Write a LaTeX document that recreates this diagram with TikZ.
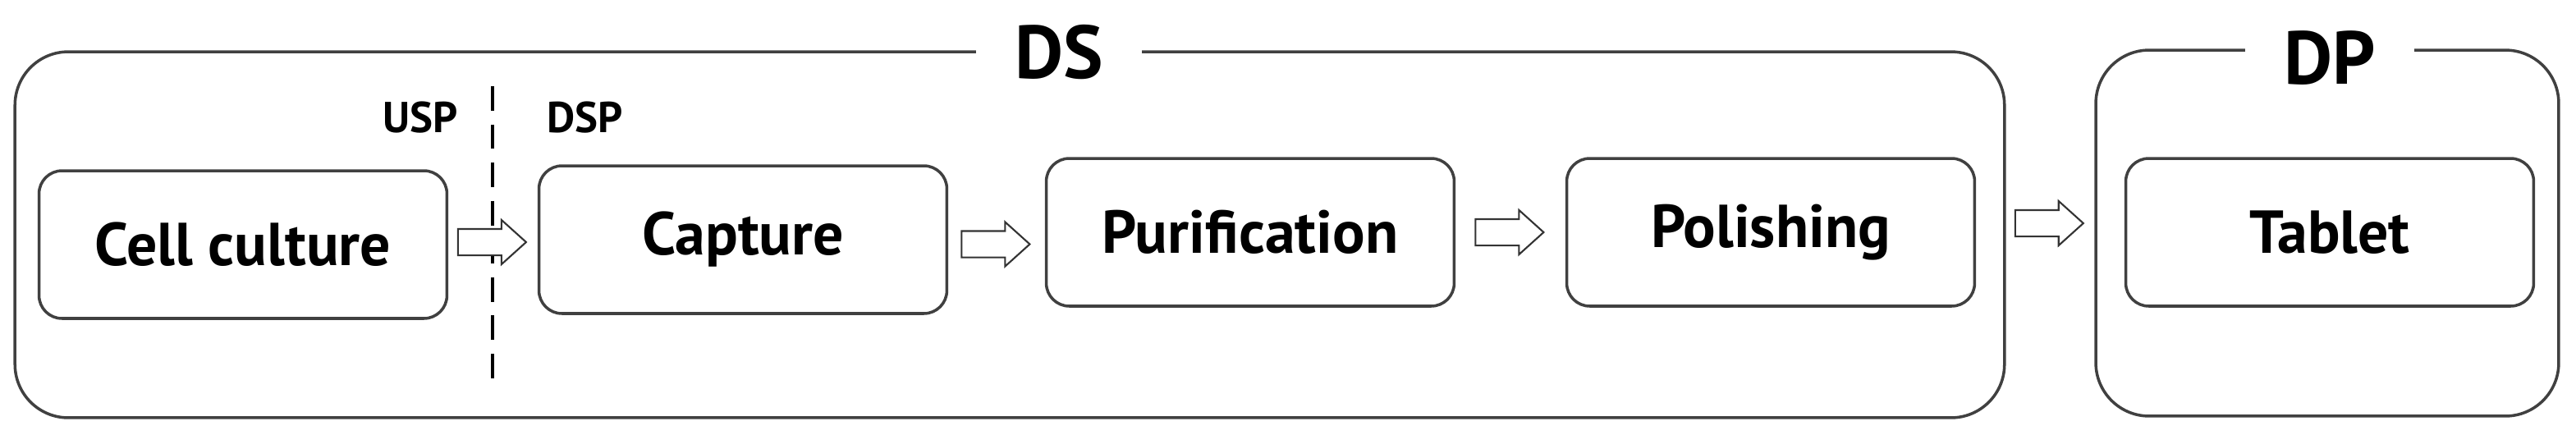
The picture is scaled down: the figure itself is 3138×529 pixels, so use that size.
\documentclass[tikz,border=0pt]{standalone}
\usepackage{fontspec}
\setmainfont{PT Sans}
\usetikzlibrary{shapes.arrows,calc,positioning}
\tikzset{
  stage/.style={draw=black!75, line width=2pt, rounded corners=0.56cm,
    minimum width=9.94cm, minimum height=3.6cm, font=\fontsize{42}{50}\selectfont\bfseries},
  group frame/.style={draw=black!75, line width=2pt, rounded corners=1.3cm},
  group title/.style={fill=white, inner xsep=0.95cm, inner ysep=0pt,
    font=\fontsize{52}{60}\selectfont\bfseries},
  flow arrow/.style={single arrow, draw=black!80, fill=white, line width=1.2pt,
    minimum height=1.66cm, inner xsep=0pt, inner ysep=0.3cm, xshift=-0.2cm,
    single arrow head extend=0.22cm, single arrow tip angle=84},
  split label/.style={inner sep=0pt, font=\fontsize{30}{36}\selectfont\bfseries},
  split line/.style={draw=black, line width=1.8pt, dash pattern=on 17pt off 9.5pt}
}

\begin{document}
\begin{tikzpicture}[x=0.02cm, y=-0.02cm]
  \useasboundingbox (0,0) rectangle (3138,529);

  % outer groups
  \node[group frame, minimum width=48.48cm, minimum height=8.92cm] (ds) at (1230,286) {};
  \node[group frame, minimum width=11.28cm, minimum height=8.92cm] (dp) at (2835,284) {};
  \node[group title] (dstitle) at (1290,64) {DS};
  \node[group title] (dptitle) at (2838,71) {DP};

  % process steps
  \node[stage] (cell) at (296,298) {Cell culture};
  \node[stage] (capture) at (905,292) {Capture};
  \node[stage] (purification) at (1523,283) {Purification};
  \node[stage] (polishing) at (2157,283) {Polishing};
  \node[stage] (tablet) at (2838,283) {Tablet};

  % USP / DSP split
  \coordinate (cut top) at (600,105);
  \coordinate (cut bottom) at (600,462);
  \draw[split line] (cut top) -- (cut bottom);
  \node[split label, anchor=east] (usp) at (558,143) {USP};
  \node[split label, anchor=west] (dsp) at (666,143) {DSP};

  % flow
  \node[flow arrow] (a1) at ($(cell.east)!0.5!(capture.west)$) {};
  \node[flow arrow, yshift=-0.2cm] (a2) at ($(capture.east)!0.5!(purification.west)$) {};
  \node[flow arrow] (a3) at ($(purification.east)!0.5!(polishing.west)$) {};
  \node[flow arrow, yshift=0.26cm] (a4) at ($(ds.east)!0.5!(dp.west)$) {};
\end{tikzpicture}
\end{document}
